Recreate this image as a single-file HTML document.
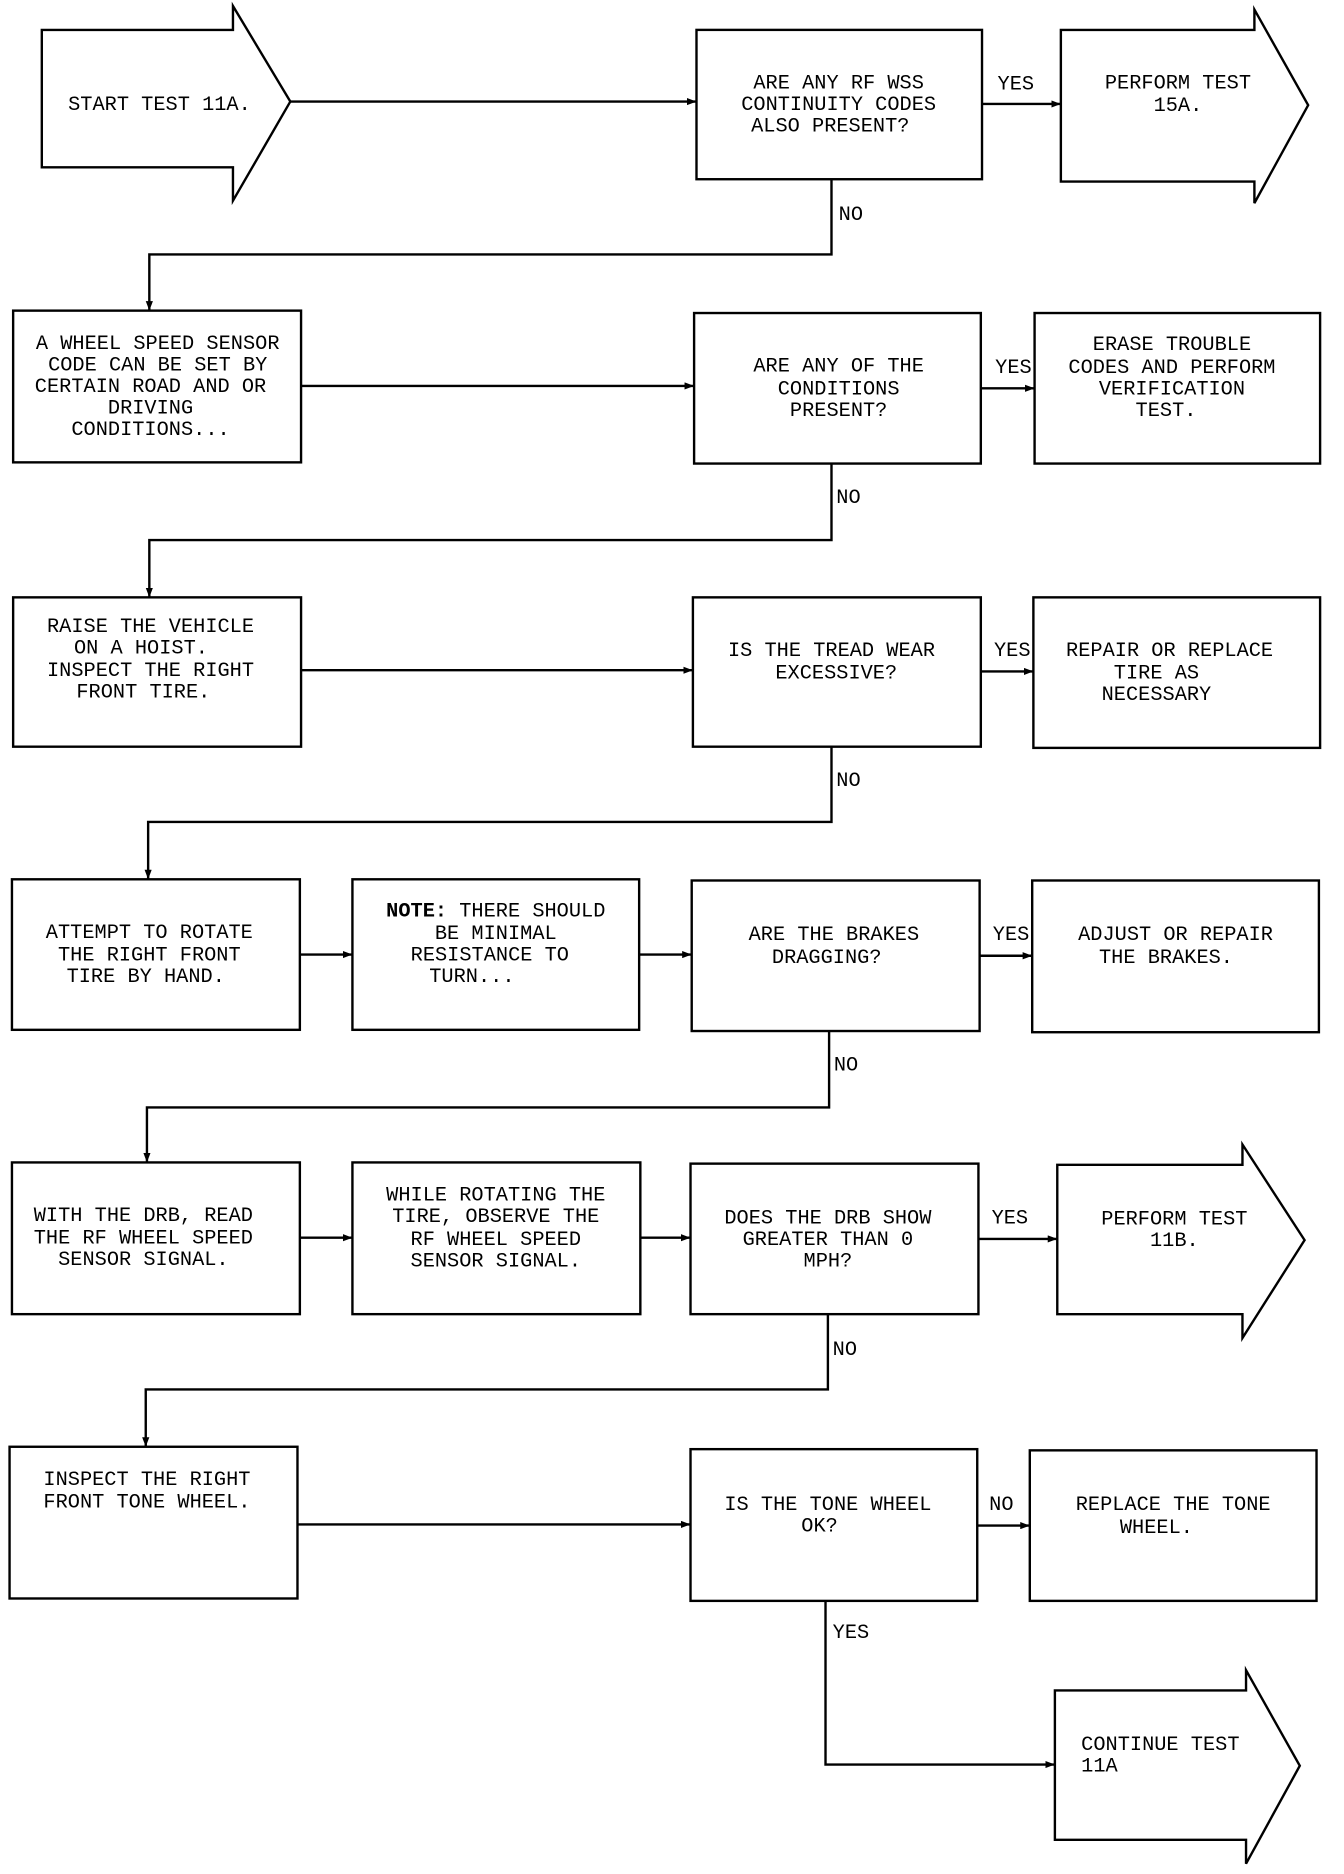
<!DOCTYPE html>
<html><head><style>
html,body{margin:0;padding:0;background:#fff;}
svg{display:block;}
text{font-family:"Liberation Mono",monospace;font-size:17px;fill:#000;}
</style></head><body>
<svg width="1344" height="1874" viewBox="0 0 1125 1568.6" xmlns="http://www.w3.org/2000/svg">
<defs><marker id="a" markerWidth="8" markerHeight="6" refX="8" refY="3" orient="auto" markerUnits="userSpaceOnUse"><path d="M0,0 L8,3 L0,6 Z" fill="#000"/></marker></defs>
<g fill="none" stroke="#000" stroke-width="2">
<!-- arrows -->
<path d="M35,25 H195 V5 L243,85 L195,168 V140 H35 Z"/>
<path d="M888,25 H1050 V8 L1095,88 L1050,170 V152 H888 Z"/>
<path d="M885,975 H1040 V958 L1092,1038 L1040,1120 V1100 H885 Z"/>
<path d="M883,1415 H1043 V1398 L1088,1478 L1043,1560 V1540 H883 Z"/>
<!-- boxes -->
<rect x="583" y="25" width="239" height="125"/>
<rect x="11" y="260" width="241" height="127"/>
<rect x="581" y="262" width="240" height="126"/>
<rect x="866" y="262" width="239" height="126"/>
<rect x="11" y="500" width="241" height="125"/>
<rect x="580" y="500" width="241" height="125"/>
<rect x="865" y="500" width="240" height="126"/>
<rect x="10" y="736" width="241" height="126"/>
<rect x="295" y="736" width="240" height="126"/>
<rect x="579" y="737" width="241" height="126"/>
<rect x="864" y="737" width="240" height="127"/>
<rect x="10" y="973" width="241" height="127"/>
<rect x="295" y="973" width="241" height="127"/>
<rect x="578" y="974" width="241" height="126"/>
<rect x="8" y="1211" width="241" height="127"/>
<rect x="578" y="1213" width="240" height="127"/>
<rect x="862" y="1214" width="240" height="126"/>
</g>
<g fill="none" stroke="#000" stroke-width="2" marker-end="url(#a)">
<path d="M243,85 H583"/>
<path d="M822,87 H888"/>
<path d="M696,150 V213 H125 V260"/>
<path d="M252,323 H581"/>
<path d="M821,325 H866"/>
<path d="M696,388 V452 H125 V500"/>
<path d="M252,561 H580"/>
<path d="M821,562 H865"/>
<path d="M696,625 V688 H124 V736"/>
<path d="M251,799 H295"/>
<path d="M535,799 H579"/>
<path d="M820,800 H864"/>
<path d="M694,863 V927 H123 V973"/>
<path d="M251,1036 H295"/>
<path d="M536,1036 H578"/>
<path d="M819,1037 H885"/>
<path d="M693,1100 V1163 H122 V1211"/>
<path d="M249,1276 H578"/>
<path d="M818,1277 H862"/>
<path d="M691,1340 V1477 H883"/>
</g>
<g>
<text x="57" y="92">START TEST 11A.</text>
<text x="835" y="75">YES</text>
<text x="702" y="184">NO</text>
<text x="700" y="421">NO</text>
<text x="833" y="312">YES</text>
<text x="832" y="549">YES</text>
<text x="700" y="658">NO</text>
<text x="831" y="787">YES</text>
<text x="698" y="896">NO</text>
<text x="830" y="1024">YES</text>
<text x="697" y="1134">NO</text>
<text x="828" y="1264">NO</text>
<text x="697" y="1371">YES</text>
<text x="905" y="1465">CONTINUE TEST</text>
<text x="905" y="1483">11A</text>
</g>
<g text-anchor="middle">
<text x="702" y="74">ARE ANY RF WSS</text><text x="702" y="92">CONTINUITY CODES</text><text x="695" y="110">ALSO PRESENT?</text>
<text x="986" y="74">PERFORM TEST</text><text x="986" y="93">15A.</text>
<text x="132" y="292">A WHEEL SPEED SENSOR</text><text x="132" y="310">CODE CAN BE SET BY</text><text x="126" y="328">CERTAIN ROAD AND OR</text><text x="126" y="346">DRIVING</text><text x="126" y="364">CONDITIONS...</text>
<text x="702" y="311">ARE ANY OF THE</text><text x="702" y="330">CONDITIONS</text><text x="702" y="348">PRESENT?</text>
<text x="981" y="293">ERASE TROUBLE</text><text x="981" y="312">CODES AND PERFORM</text><text x="981" y="330">VERIFICATION</text><text x="976" y="348">TEST.</text>
<text x="126" y="529">RAISE THE VEHICLE</text><text x="118" y="547">ON A HOIST.</text><text x="126" y="566">INSPECT THE RIGHT</text><text x="120" y="584">FRONT TIRE.</text>
<text x="696" y="549">IS THE TREAD WEAR</text><text x="700" y="568">EXCESSIVE?</text>
<text x="979" y="549">REPAIR OR REPLACE</text><text x="968" y="568">TIRE AS</text><text x="968" y="586">NECESSARY</text>
<text x="125" y="785">ATTEMPT TO ROTATE</text><text x="125" y="804">THE RIGHT FRONT</text><text x="122" y="822">TIRE BY HAND.</text>
<text x="415" y="767"><tspan font-weight="bold">NOTE:</tspan> THERE SHOULD</text><text x="415" y="786">BE MINIMAL</text><text x="410" y="804">RESISTANCE TO</text><text x="395" y="822">TURN...</text>
<text x="698" y="787">ARE THE BRAKES</text><text x="692" y="806">DRAGGING?</text>
<text x="984" y="787">ADJUST OR REPAIR</text><text x="976" y="806">THE BRAKES.</text>
<text x="120" y="1022">WITH THE DRB, READ</text><text x="120" y="1041">THE RF WHEEL SPEED</text><text x="120" y="1059">SENSOR SIGNAL.</text>
<text x="415" y="1005">WHILE ROTATING THE</text><text x="415" y="1023">TIRE, OBSERVE THE</text><text x="415" y="1042">RF WHEEL SPEED</text><text x="415" y="1060">SENSOR SIGNAL.</text>
<text x="693" y="1024">DOES THE DRB SHOW</text><text x="693" y="1042">GREATER THAN 0</text><text x="693" y="1060">MPH?</text>
<text x="983" y="1025">PERFORM TEST</text><text x="983" y="1043">11B.</text>
<text x="123" y="1243">INSPECT THE RIGHT</text><text x="123" y="1262">FRONT TONE WHEEL.</text>
<text x="693" y="1264">IS THE TONE WHEEL</text><text x="686" y="1282">OK?</text>
<text x="982" y="1264">REPLACE THE TONE</text><text x="968" y="1283">WHEEL.</text>
</g>
</svg>
</body></html>
